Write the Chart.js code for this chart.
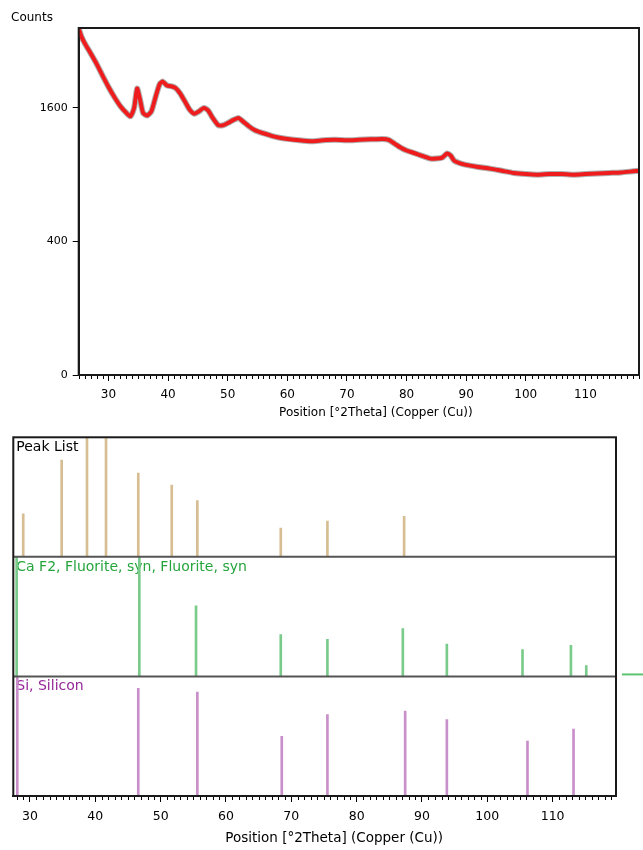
<!DOCTYPE html>
<html>
<head>
<meta charset="utf-8">
<script src="https://cdn.jsdelivr.net/npm/chart.js@4.4.1/dist/chart.umd.min.js"></script>
<style>
  body { margin: 0; background: #fff; width: 643px; height: 850px; overflow: hidden; position: relative; }
  canvas { position: absolute; left: 0; }
  #scan { top: 0; }
  #sticks { top: 430px; }
</style>
</head>
<body>
<canvas id="scan" width="643" height="430"></canvas>
<canvas id="sticks" width="643" height="420"></canvas>
<script>
const twoTheta = [25, 25.5, 26, 27, 28, 29, 30, 31, 32, 33, 33.7, 34.3, 34.8, 35.3, 35.8, 36.5, 37.2, 38, 38.6, 39.1,
  39.8, 40.5, 41.2, 42, 42.8, 43.6, 44.4, 45.2, 46, 46.7, 47.5, 48.4, 49.3, 50.2, 51, 51.8, 52.6, 53.5, 54.5, 55.5,
  56.5, 57.5, 58.5, 60, 62, 64, 66, 68, 70, 72, 74, 76, 77, 78, 79, 80, 81, 82, 83, 84,
  85, 86, 86.8, 87.4, 88, 89, 90, 92, 94, 96, 98, 100, 102, 104, 106, 108, 110, 112, 114, 116,
  118, 119]
const counts = [2690, 2560, 2470, 2320, 2170, 2010, 1860, 1730, 1620, 1540, 1500, 1600, 1840, 1700, 1540, 1510, 1560, 1760, 1900, 1930,
  1880, 1870, 1850, 1780, 1680, 1580, 1530, 1560, 1600, 1570, 1480, 1400, 1400, 1430, 1460, 1480, 1440, 1390, 1345, 1320,
  1300, 1280, 1265, 1250, 1235, 1225, 1235, 1240, 1235, 1240, 1245, 1250, 1240, 1200, 1160, 1130, 1110, 1090, 1070, 1050,
  1050, 1060, 1100, 1080, 1030, 1005, 990, 970, 955, 935, 915, 905, 900, 905, 905, 900, 905, 910, 915, 920,
  930, 935]
const countTicks = [0, 400, 1600]
const angleTicks = [30, 40, 50, 60, 70, 80, 90, 100, 110]

// reference patterns (relative height, %)
const peakListPos = [28.97, 34.85, 38.73, 41.64, 46.58, 51.70, 55.62, 68.39, 75.53, 87.27]
const peakListHeight = [36, 81, 100, 99, 70, 60, 47, 24, 30, 34]
const fluoritePos = [27.96, 46.74, 55.42, 68.39, 75.53, 87.07, 93.81, 105.39, 112.80, 115.15]
const fluoriteHeight = [100, 100, 59, 35, 31, 40, 27, 22.5, 26, 9]
const siliconPos = [28.06, 46.58, 55.62, 68.54, 75.53, 87.43, 93.81, 106.15, 113.2]
const siliconHeight = [100, 90, 87, 50, 68, 71, 64, 46, 56]

const xTitle = 'Position [°2Theta] (Copper (Cu))'
const FONT = '"DejaVu Sans", Verdana, sans-serif'

// square-root intensity axis
class SqrtScale extends Chart.LinearScale {
  getPixelForValue (value) {
    if (value === null || value === undefined) return NaN
    const lo = Math.sqrt(this.min)
    const hi = Math.sqrt(this.max)
    return this.getPixelForDecimal((Math.sqrt(Math.max(value, 0)) - lo) / (hi - lo))
  }

  getValueForPixel (pixel) {
    const lo = Math.sqrt(this.min)
    const hi = Math.sqrt(this.max)
    const s = lo + this.getDecimalForPixel(pixel) * (hi - lo)
    return s * s
  }
}
SqrtScale.id = 'sqrt'
SqrtScale.defaults = Chart.LinearScale.defaults
Chart.register(SqrtScale)

const minorTicks = (ctx, scale, bottom, len) => {
  ctx.beginPath()
  for (let v = Math.ceil(scale.min); v <= scale.max; v++) {
    if (v % 10 === 0) continue
    const px = Math.round(scale.getPixelForValue(v)) + 0.5
    ctx.moveTo(px, bottom)
    ctx.lineTo(px, bottom + len)
  }
  ctx.stroke()
}

const scanDecor = {
  id: 'scanDecor',
  afterDraw (chart) {
    const { ctx, chartArea: a, scales: { x } } = chart
    ctx.save()
    ctx.strokeStyle = '#1a1a1a'
    ctx.lineWidth = 2
    ctx.strokeRect(a.left, a.top, a.right - a.left, a.bottom - a.top)
    ctx.lineWidth = 1
    ctx.strokeStyle = '#000'
    minorTicks(ctx, x, a.bottom + 1, 3)
    ctx.fillStyle = '#000'
    ctx.font = '12px ' + FONT
    ctx.textBaseline = 'middle'
    ctx.fillText('Counts', 11, 18)
    ctx.textAlign = 'center'
    ctx.fillText(xTitle, (a.left + a.right) / 2 + 17, 413)
    ctx.restore()
  }
}

new Chart(document.getElementById('scan'), {
  type: 'line',
  data: {
    datasets: [{
      data: twoTheta.map((t, i) => ({ x: t, y: counts[i] })),
      borderColor: '#ee1c1c',
      borderWidth: 4,
      pointRadius: 0,
      tension: 0.2
    }, {
      data: twoTheta.map((t, i) => ({ x: t, y: counts[i] })),
      borderColor: 'rgba(60,60,60,0.4)',
      borderWidth: 6,
      pointRadius: 0,
      tension: 0.2
    }]
  },
  options: {
    responsive: false,
    animation: false,
    layout: { padding: { top: 28, left: 0, right: 4, bottom: 0 } },
    plugins: { legend: { display: false }, tooltip: { enabled: false } },
    scales: {
      x: {
        type: 'linear',
        min: 25,
        max: 119,
        afterBuildTicks: s => { s.ticks = angleTicks.map(v => ({ value: v })) },
        afterFit: s => { s.height = 55 },
        ticks: { color: '#000', font: { family: FONT, size: 12 }, padding: 7, maxRotation: 0, autoSkip: false, callback: v => String(v) },
        grid: { drawOnChartArea: false, tickLength: 6, tickColor: '#000' },
        border: { color: '#1a1a1a', width: 2 }
      },
      y: {
        type: 'sqrt',
        min: 0,
        max: 2700,
        afterBuildTicks: s => { s.ticks = countTicks.map(v => ({ value: v })) },
        afterFit: s => { s.width = 78.7 },
        ticks: { color: '#000', font: { family: FONT, size: 11 }, padding: 5, callback: v => String(v) },
        grid: { drawOnChartArea: false, tickLength: 6, tickColor: '#000' },
        border: { color: '#1a1a1a', width: 2 }
      }
    }
  },
  plugins: [scanDecor]
})

// bottom: three stacked stick panels sharing one angle axis
const panels = [
  { id: 'yPeak', label: 'Peak List', labelColor: '#000' },
  { id: 'yFluorite', label: 'Ca F2, Fluorite, syn, Fluorite, syn', labelColor: '#26a43c' },
  { id: 'ySilicon', label: 'Si, Silicon', labelColor: '#96289a' }
]

const stickDecor = {
  id: 'stickDecor',
  beforeDatasetsDraw (chart) {
    const { ctx, chartArea: a } = chart
    ctx.save()
    ctx.font = '14px ' + FONT
    ctx.textBaseline = 'middle'
    panels.forEach(p => {
      const s = chart.scales[p.id]
      ctx.fillStyle = p.labelColor
      ctx.fillText(p.label, a.left + 3, s.top + 10)
    })
    ctx.restore()
  },
  afterDraw (chart) {
    const { ctx, chartArea: a, scales } = chart
    ctx.save()
    ctx.strokeStyle = '#555'
    ctx.lineWidth = 2
    ;[scales.yPeak.bottom, scales.yFluorite.bottom].forEach(y => {
      ctx.beginPath()
      ctx.moveTo(a.left, y)
      ctx.lineTo(a.right, y)
      ctx.stroke()
    })
    ctx.strokeStyle = '#1a1a1a'
    ctx.strokeRect(a.left, a.top, a.right - a.left, a.bottom - a.top)
    ctx.lineWidth = 1
    ctx.strokeStyle = '#000'
    minorTicks(ctx, scales.x, a.bottom + 1, 3)
    // stray legend stroke at the right edge
    ctx.strokeStyle = '#5cc46c'
    ctx.lineWidth = 2
    ctx.beginPath()
    ctx.moveTo(a.right + 6, scales.yFluorite.bottom - 2)
    ctx.lineTo(chart.width, scales.yFluorite.bottom - 2)
    ctx.stroke()
    ctx.fillStyle = '#000'
    ctx.font = '13.5px ' + FONT
    ctx.textAlign = 'center'
    ctx.textBaseline = 'middle'
    ctx.fillText(xTitle, (a.left + a.right) / 2 + 19.5, 408)
    ctx.restore()
  }
}

const panelAxis = {
  type: 'linear',
  min: 0,
  max: 100,
  stack: 'panels',
  stackWeight: 1,
  position: 'left',
  afterFit: s => { s.width = 0 },
  ticks: { display: false },
  grid: { display: false, drawTicks: false },
  border: { display: false }
}

new Chart(document.getElementById('sticks'), {
  type: 'bar',
  data: {
    datasets: [
      { data: peakListPos.map((p, i) => ({ x: p, y: peakListHeight[i] })), yAxisID: 'yPeak', backgroundColor: '#d6bd92' },
      { data: fluoritePos.map((p, i) => ({ x: p, y: fluoriteHeight[i] })), yAxisID: 'yFluorite', backgroundColor: '#7acb8a' },
      { data: siliconPos.map((p, i) => ({ x: p, y: siliconHeight[i] })), yAxisID: 'ySilicon', backgroundColor: '#c98fca' }
    ]
  },
  options: {
    responsive: false,
    animation: false,
    layout: { padding: { top: 7.3, left: 13.3, right: 27, bottom: 0 } },
    datasets: { bar: { barThickness: 2, grouped: false, borderWidth: 0 } },
    plugins: { legend: { display: false }, tooltip: { enabled: false } },
    scales: {
      x: {
        type: 'linear',
        min: 27.45,
        max: 119.7,
        offset: false,
        afterBuildTicks: s => { s.ticks = angleTicks.map(v => ({ value: v })) },
        afterFit: s => { s.height = 54 },
        ticks: { color: '#000', font: { family: FONT, size: 12.5 }, padding: 7, maxRotation: 0, autoSkip: false, callback: v => String(v) },
        grid: { drawOnChartArea: false, offset: false, tickLength: 6, tickColor: '#000' },
        border: { color: '#1a1a1a', width: 2 }
      },
      // listed bottom-up: Chart.js places the last left-hand stacked axis on top
      ySilicon: { ...panelAxis },
      yFluorite: { ...panelAxis },
      yPeak: { ...panelAxis }
    }
  },
  plugins: [stickDecor]
})
</script>
</body>
</html>
